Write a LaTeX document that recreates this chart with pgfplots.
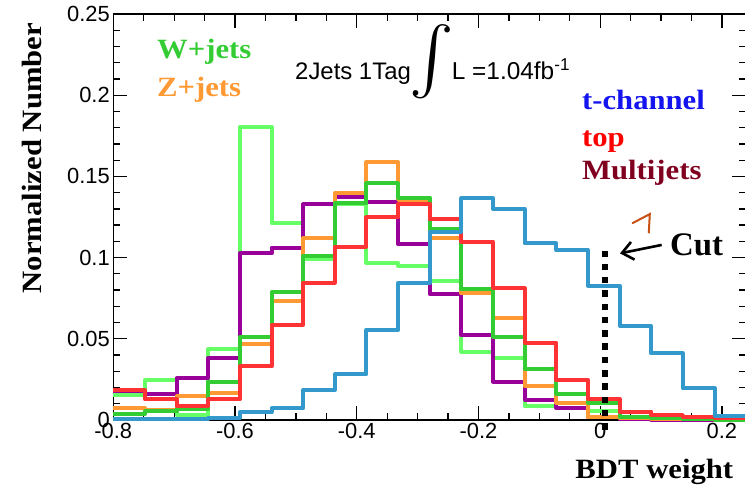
\documentclass[border=0pt]{standalone}
\usepackage{graphicx}
\usepackage{fontspec}
\setmainfont{Liberation Sans}
\newfontfamily\lserif{Liberation Serif}
\usepackage{pgfplots}
\pgfplotsset{compat=1.18}
\usetikzlibrary{arrows.meta}

\definecolor{lgreen}{RGB}{102,255,102}
\definecolor{dgreen}{RGB}{51,204,51}
\definecolor{zorange}{RGB}{255,153,51}
\definecolor{topred}{RGB}{255,51,51}
\definecolor{mjpurple}{RGB}{153,0,153}
\definecolor{tblue}{RGB}{51,153,204}
\definecolor{labblue}{RGB}{20,20,240}
\definecolor{labmaroon}{RGB}{128,0,32}
\definecolor{markbrown}{RGB}{200,80,20}

\newcommand\lab[1]{\scalebox{1.1}[1]{\lserif\bfseries #1}}

% bin left edges (width 0.052), last row closes the final bin
\pgfplotstableread{
x      LG     G      O      R      P      B
-0.800 0.0155 0.0035 0.0072 0.0185 0.0179 0.0004
-0.748 0.0246 0.0055 0.0060 0.0127 0.0158 0.0004
-0.696 0.0030 0.0066 0.0148 0.0086 0.0257 0.0004
-0.644 0.0435 0.0236 0.0164 0.0127 0.0384 0.0010
-0.592 0.1806 0.0510 0.0466 0.0330 0.1026 0.0047
-0.540 0.1210 0.0786 0.0733 0.0585 0.1061 0.0072
-0.488 0.0990 0.1010 0.1119 0.0846 0.1328 0.0185
-0.436 0.1330 0.1334 0.1396 0.1067 0.1375 0.0281
-0.384 0.0965 0.1457 0.1587 0.1248 0.1344 0.0554
-0.332 0.0948 0.1370 0.1355 0.1330 0.1082 0.0842
-0.280 0.0858 0.1174 0.1119 0.1236 0.0775 0.1160
-0.228 0.0420 0.0805 0.0780 0.1098 0.0523 0.1365
-0.176 0.0380 0.0513 0.0630 0.0811 0.0236 0.1299
-0.124 0.0088 0.0312 0.0209 0.0476 0.0125 0.1088
-0.072 0.0072 0.0158 0.0107 0.0246 0.0075 0.1047
-0.020 0.0055 0.0107 0.0016 0.0129 0.0020 0.0827
 0.032 0.0014 0.0016 0.0010 0.0051 0.0005 0.0580
 0.084 0.0010 0.0010 0.0008 0.0030 0.0002 0.0410
 0.136 0.0005 0.0005 0.0004 0.0016 0.0000 0.0195
 0.188 0.0002 0.0002 0.0002 0.0010 0.0000 0.0025
 0.240 0.0002 0.0002 0.0002 0.0010 0.0000 0.0025
}\bdt

\begin{document}
\begin{tikzpicture}
\begin{axis}[
  name=ax,
  scale only axis,
  width=632.9bp, height=406bp,
  xmin=-0.8, xmax=0.24,
  ymin=0, ymax=0.25,
  clip=false,
  axis line style={line width=1.4bp},
  every tick/.style={line width=1.3bp, black},
  major tick length=14bp,
  minor tick length=7bp,
  xtick={-0.8,-0.6,-0.4,-0.2,0,0.2},
  xticklabels={-0.8,-0.6,-0.4,-0.2,0,0.2},
  ytick={0,0.05,0.1,0.15,0.2,0.25},
  yticklabels={0,0.05,0.1,0.15,0.2,0.25},
  minor x tick num=3,
  minor y tick num=4,
  scaled ticks=false,
  xticklabel style={font=\fontsize{22}{22}\selectfont},
  yticklabel style={font=\fontsize{22}{22}\selectfont},
  xlabel={\lab{BDT weight}},
  xlabel style={at={(axis description cs:0.985,-0.143)}, anchor=base east,
    font=\fontsize{28}{30}\selectfont},
  ylabel={\lab{Normalized Number}},
  ylabel style={at={(axis description cs:-0.128,0.645)}, anchor=center,
    font=\fontsize{28}{30}\selectfont},
  every axis plot/.style={const plot, line width=4bp, line join=round, mark=none},
]
\addplot[lgreen]   table[x=x,y=LG] {\bdt};
\addplot[mjpurple] table[x=x,y=P]  {\bdt};
\addplot[zorange]  table[x=x,y=O]  {\bdt};
\addplot[dgreen]   table[x=x,y=G]  {\bdt};
\addplot[topred]   table[x=x,y=R]  {\bdt};
\addplot[tblue]    table[x=x,y=B]  {\bdt};

% cut line
\addplot[black, line width=6bp, dash pattern=on 6.5bp off 6.8bp, const plot=false]
  coordinates {(0.0079,-0.006) (0.0079,0.104)};

% arrow, Cut label and small mark
\draw[black, line width=2.6bp, -{Straight Barb[length=11bp,width=18bp]}]
  (axis cs:0.1011,0.1078) -- (axis cs:0.0326,0.1026);
\node[anchor=base west, inner sep=0, font=\fontsize{33}{33}\selectfont]
  at (axis cs:0.1146,0.1016) {\lserif\bfseries Cut};
\draw[markbrown, line width=2bp]
  (axis cs:0.0526,0.1211) -- (axis cs:0.0816,0.1268) -- (axis cs:0.0799,0.1150);

% legend texts
\node[anchor=base west, inner sep=0, text=dgreen, font=\fontsize{28}{28}\selectfont]
  at (axis cs:-0.7282,0.2229) {\lab{W+jets}};
\node[anchor=base west, inner sep=0, text=zorange, font=\fontsize{28}{28}\selectfont]
  at (axis cs:-0.7282,0.1989) {\lab{Z+jets}};
\node[anchor=base west, inner sep=0, text=labblue, font=\fontsize{28}{28}\selectfont]
  at (axis cs:-0.0299,0.1909) {\lab{t-channel}};
\node[anchor=base west, inner sep=0, text=red, font=\fontsize{28}{28}\selectfont]
  at (axis cs:-0.0299,0.1683) {\lab{top}};
\node[anchor=base west, inner sep=0, text=labmaroon, font=\fontsize{28}{28}\selectfont]
  at (axis cs:-0.0299,0.1478) {\lab{Multijets}};

% selection text
\node[anchor=base west, inner sep=0, font=\fontsize{24}{24}\selectfont]
  at (axis cs:-0.5014,0.2094) {2Jets 1Tag};
\node[anchor=center, inner sep=0]
  at (axis cs:-0.2763,0.2205) {\resizebox{!}{54bp}{$\int$}};
\node[anchor=base west, inner sep=0, font=\fontsize{24.5}{24.5}\selectfont]
  at (axis cs:-0.244,0.2094) {L =1.04fb\textsuperscript{-1}};
\end{axis}
\pgfresetboundingbox
\path (ax.south west) ++(-113.3bp,-71bp) rectangle ++(745bp,491bp);
\end{tikzpicture}
\end{document}
